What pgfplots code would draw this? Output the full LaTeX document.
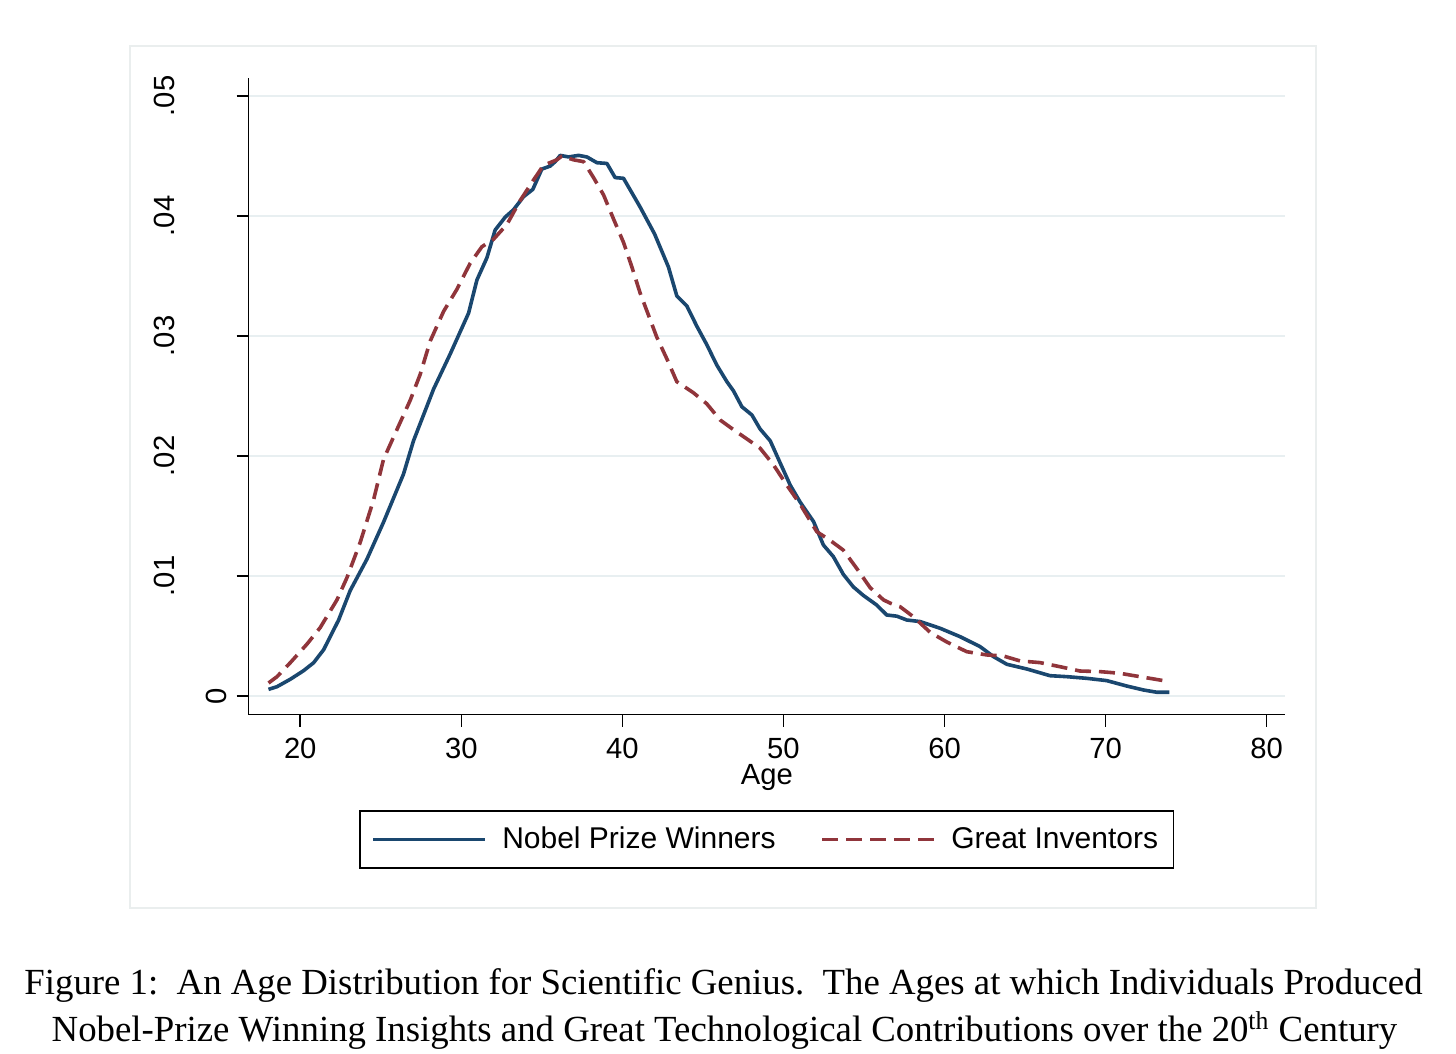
\documentclass[border=0pt]{standalone}
\usepackage{fontspec}
\setmainfont{Liberation Serif}
\newfontfamily\arial{Liberation Sans}
\usepackage{pgfplots}
\pgfplotsset{compat=1.18}
\definecolor{snavy}{RGB}{26,71,111}
\definecolor{smaroon}{RGB}{144,53,59}
\definecolor{sgrid}{RGB}{232,239,241}
\definecolor{sframe}{RGB}{234,238,238}
\begin{document}
\begin{tikzpicture}
\useasboundingbox (0,0) rectangle (728pt,527pt);
\fill[white] (0,0) rectangle (728pt,527pt);
\draw[sframe, line width=1pt] (65pt,73pt) rectangle (658pt,504pt);
\begin{axis}[
  at={(124.35pt,169.65pt)}, anchor=south west,
  scale only axis, width=518.15pt, height=318.35pt,
  xmin=16.8, xmax=81.14, ymin=-0.00156, ymax=0.0515,
  axis x line*=bottom, axis y line*=left,
  axis line style={line width=0.75pt, black},
  tick align=outside, major tick length=6pt,
  every tick/.style={line width=0.75pt, black},
  xtick={20,30,40,50,60,70,80},
  xticklabels={20,30,40,50,60,70,80},
  ytick={0.01,0.02,0.03,0.04,0.05},
  yticklabels={.01,.02,.03,.04,.05},
  extra y ticks={0}, extra y tick labels={0},
  extra y tick style={yticklabel style={yshift=-25.5pt}},
  scaled y ticks=false,
  ymajorgrids, grid style={sgrid, line width=1pt},
  ticklabel style={font=\arial\fontsize{14.6}{17}\selectfont, inner sep=0pt},
  yticklabel style={xshift=-30.85pt, rotate=90, anchor=base},
  xticklabel style={anchor=base, yshift=-15.8pt},
  xlabel={Age},
  xlabel style={font=\arial\fontsize{14.6}{17}\selectfont, inner sep=0pt, at={(axis description cs:0.5,0)}, anchor=base, yshift=-34.85pt},
  legend style={at={(0.5,-0.196)}, anchor=center, draw=black, line width=0.75pt,
    font=\arial\fontsize{15}{18}\selectfont, inner xsep=5.8pt, inner ysep=6pt,
    /tikz/every odd column/.append style={column sep=5.5pt},
    /tikz/every even column/.append style={column sep=20.5pt}},
  legend columns=2,
  legend cell align=left,
  legend image code/.code={\draw[#1] (0pt,0pt) -- (56pt,0pt);},
]
\addplot[snavy, line width=1.8pt, line join=round] coordinates {
(18.03,0.00055) (18.55,0.00077) (19.38,0.00139) (20.2,0.0021) (20.83,0.00277)
(21.45,0.00385) (22.38,0.00632) (23.1,0.00878) (24.14,0.0114) (25.17,0.01448)
(26.41,0.01849) (27.03,0.02126) (28.28,0.02558) (29.31,0.0285) (29.93,0.03035)
(30.45,0.0319) (30.97,0.03467) (31.59,0.03652) (32.1,0.03883) (32.73,0.03991)
(33.24,0.04052) (33.86,0.0416) (34.44,0.04222) (35.0,0.04391) (35.52,0.04416)
(35.83,0.04453) (36.14,0.04505) (36.66,0.04492) (37.28,0.04505) (37.8,0.04492)
(38.42,0.04444) (39.04,0.04438) (39.55,0.0432) (40.07,0.04314) (41.1,0.04075)
(42.0,0.0385) (42.86,0.03575) (43.38,0.03334) (44.0,0.03251) (44.62,0.03082)
(45.24,0.02928) (45.86,0.02758) (46.49,0.02619) (46.9,0.02542) (47.42,0.0241)
(48.04,0.02342) (48.55,0.02225) (49.18,0.02126) (49.8,0.01941) (50.42,0.01757)
(51.04,0.01615) (51.87,0.01453) (52.48,0.01258) (53.1,0.01161) (53.72,0.01013)
(54.34,0.00909) (54.96,0.00838) (55.79,0.00758) (56.41,0.00675) (57.04,0.00665)
(57.66,0.00633) (58.49,0.0062) (59.73,0.00564) (60.97,0.00494) (62.21,0.00411)
(63.04,0.00328) (63.87,0.00264) (65.11,0.00225) (66.55,0.00169) (67.59,0.00161)
(68.83,0.00147) (70.07,0.00128) (71.31,0.00083) (72.35,0.0005) (73.18,0.00031)
(73.96,0.00031)
};
\addlegendentry{Nobel Prize Winners}
\addplot[smaroon, line width=1.8pt, dash pattern=on 8pt off 4pt, line join=round] coordinates {
(18.03,0.00108) (18.55,0.0016) (19.38,0.00277) (20.41,0.00431) (21.24,0.0057)
(22.28,0.00801) (22.9,0.00986) (23.72,0.01279) (24.55,0.01633) (25.17,0.01972)
(26.0,0.02219) (26.83,0.02465) (27.45,0.02681) (28.07,0.02958) (28.9,0.03205)
(29.73,0.0339) (30.55,0.03606) (31.28,0.03744) (32.0,0.03806) (32.83,0.03929)
(33.66,0.0413) (34.48,0.04299) (35.1,0.04422) (35.93,0.04468) (36.24,0.04499)
(36.97,0.04468) (37.59,0.04453) (38.21,0.0432) (38.83,0.04176) (39.45,0.03975)
(40.07,0.0378) (40.59,0.03575) (41.1,0.03359) (41.62,0.03174) (42.14,0.02989)
(42.76,0.0281) (43.38,0.02619) (44.41,0.02527) (45.24,0.02435) (46.07,0.023)
(46.9,0.02219) (47.73,0.02142) (48.55,0.02065) (49.38,0.01926) (50.21,0.01757)
(51.04,0.01597) (52.07,0.01369) (52.9,0.01297) (53.72,0.01215) (54.55,0.01063)
(55.38,0.00903) (56.21,0.00801) (56.6,0.00775) (57.24,0.00744) (58.07,0.0066)
(59.11,0.0053) (60.14,0.0045) (61.38,0.00369) (62.62,0.00342) (63.66,0.00333)
(64.69,0.00292) (65.93,0.00278) (67.17,0.00244) (68.41,0.00208) (69.65,0.00203)
(70.89,0.00189) (72.13,0.00161) (73.37,0.00133) (73.99,0.00119)
};
\addlegendentry{Great Inventors}
\end{axis}
\node[anchor=base, font=\fontsize{18.4}{22}\selectfont, inner sep=0pt] at (361.75pt,29.85pt) {Figure 1:\ \ An Age Distribution for Scientific Genius.\ \ The Ages at which Individuals Produced};
\node[anchor=base, font=\fontsize{18.4}{22}\selectfont, inner sep=0pt] at (362.25pt,6.15pt) {Nobel-Prize Winning Insights and Great Technological Contributions over the 20\textsuperscript{th} Century};
\end{tikzpicture}
\end{document}
